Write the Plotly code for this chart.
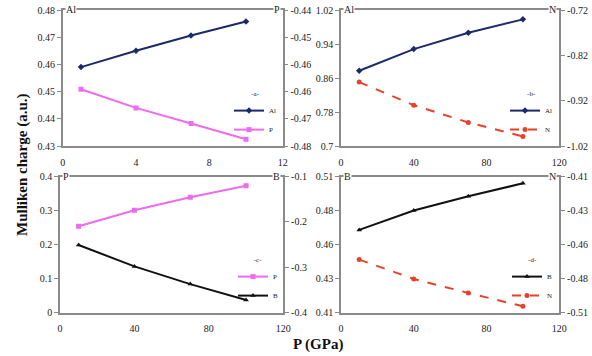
import plotly.graph_objects as go

# ---- data ----
x_a = [1, 4, 7, 10]
al_a = [0.459, 0.465, 0.4706, 0.4758]
p_a = [-0.4633, -0.4688, -0.4734, -0.4780]

x_b = [10, 40, 70, 100]
al_b = [0.877, 0.928, 0.9666, 0.998]
n_b = [-0.879, -0.930, -0.968, -0.999]

x_c = [10, 40, 70, 100]
p_c = [0.2537, 0.301, 0.339, 0.3726]
b_c = [-0.251, -0.298, -0.337, -0.372]

x_d = [10, 40, 70, 100]
b_d = [0.4708, 0.485, 0.4955, 0.505]
n_d = [-0.471, -0.4852, -0.4955, -0.5053]

# ---- tick values / labels ----
a_left_vals = [0.43, 0.44, 0.45, 0.46, 0.47, 0.48]
a_left_text = ["0.43", "0.44", "0.45", "0.46", "0.47", "0.48"]
a_right_vals = [-0.48, -0.472, -0.464, -0.456, -0.448, -0.44]
a_right_text = ["-0.48", "-0.47", "-0.46", "-0.46", "-0.45", "-0.44"]
b_left_vals = [0.7, 0.78, 0.86, 0.94, 1.02]
b_left_text = ["0.7", "0.78", "0.86", "0.94", "1.02"]
b_right_vals = [-1.02, -0.92, -0.82, -0.72]
b_right_text = ["-1.02", "-0.92", "-0.82", "-0.72"]
c_left_vals = [0, 0.1, 0.2, 0.3, 0.4]
c_left_text = ["0", "0.1", "0.2", "0.3", "0.4"]
c_right_vals = [-0.4, -0.3, -0.2, -0.1]
c_right_text = ["-0.4", "-0.3", "-0.2", "-0.1"]
d_left_vals = [0.41, 0.435, 0.46, 0.485, 0.51]
d_left_text = ["0.41", "0.43", "0.46", "0.48", "0.51"]
d_right_vals = [-0.51, -0.485, -0.46, -0.435, -0.41]
d_right_text = ["-0.51", "-0.48", "-0.46", "-0.43", "-0.41"]
xa_ticks = [0, 4, 8, 12]
xb_ticks = [0, 40, 80, 120]

W, H = 592, 356
FONT = "Liberation Serif"
AXC = "#8a8a8a"
C_AL = "#1b2a6b"
C_P = "#ee6aee"
C_N = "#e8412b"
C_B = "#111111"

def px(v):
    return v / W

def py(v):
    return 1 - v / H

fig = go.Figure()

def line(x, y, name, color, symbol, xa, ya, legend, dash="solid"):
    fig.add_trace(go.Scatter(
        x=x, y=y, name=name, mode="lines+markers", xaxis=xa, yaxis=ya,
        line=dict(color=color, width=2, dash=dash),
        marker=dict(color=color, symbol=symbol, size=5),
        legend=legend, showlegend=True))

line(x_a, al_a, "Al", C_AL, "diamond", "x", "y", "legend")
line(x_a, p_a, "P", C_P, "square", "x", "y2", "legend")
line(x_b, al_b, "Al", C_AL, "diamond", "x2", "y3", "legend2")
line(x_b, n_b, "N", C_N, "circle", "x2", "y4", "legend2", dash="dash")
line(x_c, p_c, "P", C_P, "square", "x3", "y5", "legend3")
line(x_c, b_c, "B", C_B, "triangle-up", "x3", "y6", "legend3")
line(x_d, b_d, "B", C_B, "triangle-up", "x4", "y7", "legend4")
line(x_d, n_d, "N", C_N, "circle", "x4", "y8", "legend4", dash="dash")

tickfont = dict(family=FONT, size=10, color="#222")

panels = [
    ("", (62.7, 282.7), (146, 10), [0, 12], xa_ticks,
     (a_left_vals, a_left_text, [0.43, 0.48]), (a_right_vals, a_right_text, [-0.48, -0.44]), ("Al", "P")),
    ("2", (341, 559.3), (146, 10), [0, 120], xb_ticks,
     (b_left_vals, b_left_text, [0.7, 1.02]), (b_right_vals, b_right_text, [-1.02, -0.72]), ("Al", "N")),
    ("3", (60, 283.3), (312.7, 176.5), [0, 120], xb_ticks,
     (c_left_vals, c_left_text, [0, 0.4]), (c_right_vals, c_right_text, [-0.4, -0.1]), ("P", "B")),
    ("4", (341, 559.3), (312.7, 176.5), [0, 120], xb_ticks,
     (d_left_vals, d_left_text, [0.41, 0.51]), (d_right_vals, d_right_text, [-0.51, -0.41]), ("B", "N")),
]

layout = {}
annotations = []
for i, (k, xd, yd, xr, xt, left, right, labs) in enumerate(panels):
    xdom = [px(xd[0]), px(xd[1])]
    ydom = [py(yd[0]), py(yd[1])]
    yl = "y" + ("" if i == 0 else str(2 * i + 1))
    xname = "x" + k
    layout["xaxis" + k] = dict(
        domain=xdom, range=xr, tickvals=xt, ticktext=[str(v) for v in xt],
        anchor=yl, showline=True, linecolor=AXC, linewidth=1.5, mirror=True,
        ticks="", ticklabelstandoff=6, showgrid=False, zeroline=False, tickfont=tickfont,
        automargin=False)
    layout["yaxis" + ("" if i == 0 else str(2 * i + 1))] = dict(
        domain=ydom, range=left[2], tickvals=left[0], ticktext=left[1],
        anchor=xname, showline=True, linecolor=AXC, linewidth=1.5,
        ticks="outside", ticklen=4, tickcolor=AXC, showgrid=False, zeroline=False,
        tickfont=tickfont, automargin=False)
    layout["yaxis" + str(2 * i + 2)] = dict(
        domain=ydom, range=right[2], tickvals=right[0], ticktext=right[1],
        anchor=xname, overlaying=yl, side="right", showline=True, linecolor=AXC,
        linewidth=1.5, ticks="outside", ticklen=4, tickcolor=AXC, showgrid=False,
        zeroline=False, tickfont=tickfont, automargin=False)
    annotations.append(dict(x=xdom[0] + px(2), y=ydom[1], xref="paper", yref="paper",
                            text=labs[0], showarrow=False, xanchor="left", yanchor="middle",
                            bgcolor="white", borderpad=0,
                            font=dict(family=FONT, size=10, color="#222")))
    annotations.append(dict(x=xdom[1] - px(2), y=ydom[1], xref="paper", yref="paper",
                            text=labs[1], showarrow=False, xanchor="right", yanchor="middle",
                            bgcolor="white", borderpad=0,
                            font=dict(family=FONT, size=10, color="#222")))

annotations.append(dict(x=px(22), y=py(165), xref="paper", yref="paper",
                        text="<b>Mulliken charge (a.u.)</b>", showarrow=False, textangle=-90,
                        xanchor="center", yanchor="middle",
                        font=dict(family=FONT, size=15, color="#111")))
annotations.append(dict(x=px(318), y=py(344), xref="paper", yref="paper",
                        text="<b>P (GPa)</b>", showarrow=False,
                        xanchor="center", yanchor="middle",
                        font=dict(family=FONT, size=15, color="#111")))

def leg(title, x, y):
    return dict(x=px(x), y=py(y), xanchor="right", yanchor="bottom",
                bgcolor="rgba(0,0,0,0)", borderwidth=0,
                font=dict(family=FONT, size=7, color="#222"),
                title=dict(text=title, side="top center", font=dict(family=FONT, size=7)),
                tracegroupgap=0, itemwidth=30)

fig.update_layout(
    width=W, height=H, margin=dict(l=0, r=0, t=0, b=0, pad=0, autoexpand=False),
    paper_bgcolor="white", plot_bgcolor="white",
    annotations=annotations,
    legend=leg("-a-", 282, 145),
    legend2=leg("-b-", 558, 145),
    legend3=leg("-c-", 283, 311),
    legend4=leg("-d-", 558, 311),
    **layout,
)

fig.write_html("out.html",
               config={"displayModeBar": False},
               post_script="document.body.style.margin='0';document.body.style.overflow='hidden';")
